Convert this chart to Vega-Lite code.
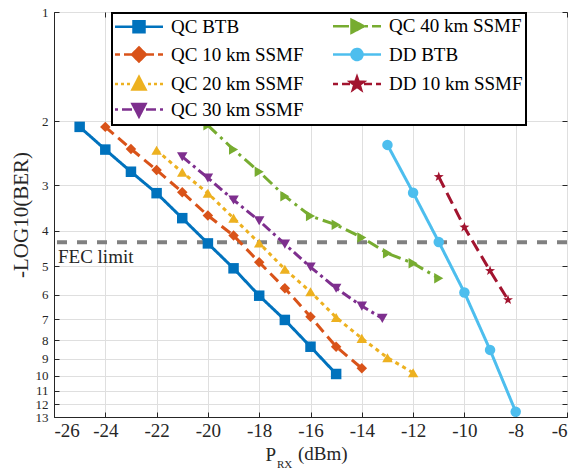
{
  "$schema": "https://vega.github.io/schema/vega-lite/v6.json",
  "width": 513,
  "height": 405,
  "autosize": {"type": "none"},
  "padding": {"left": 54, "top": 12, "right": 11, "bottom": 53},
  "background": "white",
  "config": {
    "font": "Liberation Serif, DejaVu Serif, serif",
    "view": {"stroke": "#262626", "strokeWidth": 1},
    "axis": {"domainColor": "#262626", "tickColor": "#262626", "gridColor": "#dfdfdf", "gridWidth": 1, "labelFont": "Liberation Serif, DejaVu Serif, serif", "labelColor": "#262626", "titleFont": "Liberation Serif, DejaVu Serif, serif", "titleColor": "#262626", "titleFontWeight": "normal"},
    "legend": {"labelFont": "Liberation Serif, DejaVu Serif, serif", "labelFontSize": 19, "labelColor": "#000000"},
    "text": {"font": "Liberation Serif, DejaVu Serif, serif"}
  },
  "data": {"values": [
    {"series": "QC BTB", "p": -25, "v": 2.07}, {"series": "QC BTB", "p": -24, "v": 2.39}, {"series": "QC BTB", "p": -23, "v": 2.75}, {"series": "QC BTB", "p": -22, "v": 3.15}, {"series": "QC BTB", "p": -21, "v": 3.69}, {"series": "QC BTB", "p": -20, "v": 4.33}, {"series": "QC BTB", "p": -19, "v": 5.07}, {"series": "QC BTB", "p": -18, "v": 6.03}, {"series": "QC BTB", "p": -17, "v": 7.03}, {"series": "QC BTB", "p": -16, "v": 8.33}, {"series": "QC BTB", "p": -15, "v": 9.9},
    {"series": "QC 10 km SSMF", "p": -24, "v": 2.07}, {"series": "QC 10 km SSMF", "p": -23, "v": 2.38}, {"series": "QC 10 km SSMF", "p": -22, "v": 2.72}, {"series": "QC 10 km SSMF", "p": -21, "v": 3.13}, {"series": "QC 10 km SSMF", "p": -20, "v": 3.63}, {"series": "QC 10 km SSMF", "p": -19, "v": 4.12}, {"series": "QC 10 km SSMF", "p": -18, "v": 4.88}, {"series": "QC 10 km SSMF", "p": -17, "v": 5.75}, {"series": "QC 10 km SSMF", "p": -16, "v": 6.89}, {"series": "QC 10 km SSMF", "p": -15, "v": 8.33}, {"series": "QC 10 km SSMF", "p": -14, "v": 9.55},
    {"series": "QC 20 km SSMF", "p": -22, "v": 2.4}, {"series": "QC 20 km SSMF", "p": -21, "v": 2.76}, {"series": "QC 20 km SSMF", "p": -20, "v": 3.15}, {"series": "QC 20 km SSMF", "p": -19, "v": 3.69}, {"series": "QC 20 km SSMF", "p": -18, "v": 4.32}, {"series": "QC 20 km SSMF", "p": -17, "v": 5.1}, {"series": "QC 20 km SSMF", "p": -16, "v": 5.88}, {"series": "QC 20 km SSMF", "p": -15, "v": 6.92}, {"series": "QC 20 km SSMF", "p": -14, "v": 7.9}, {"series": "QC 20 km SSMF", "p": -13, "v": 8.93}, {"series": "QC 20 km SSMF", "p": -12, "v": 9.82},
    {"series": "QC 30 km SSMF", "p": -21, "v": 2.5}, {"series": "QC 30 km SSMF", "p": -20, "v": 2.86}, {"series": "QC 30 km SSMF", "p": -19, "v": 3.29}, {"series": "QC 30 km SSMF", "p": -18, "v": 3.75}, {"series": "QC 30 km SSMF", "p": -17, "v": 4.35}, {"series": "QC 30 km SSMF", "p": -16, "v": 5.03}, {"series": "QC 30 km SSMF", "p": -15, "v": 5.75}, {"series": "QC 30 km SSMF", "p": -14, "v": 6.44}, {"series": "QC 30 km SSMF", "p": -13.2, "v": 6.96},
    {"series": "QC 40 km SSMF", "p": -20, "v": 2.05}, {"series": "QC 40 km SSMF", "p": -19, "v": 2.39}, {"series": "QC 40 km SSMF", "p": -18, "v": 2.75}, {"series": "QC 40 km SSMF", "p": -17, "v": 3.21}, {"series": "QC 40 km SSMF", "p": -16, "v": 3.64}, {"series": "QC 40 km SSMF", "p": -15, "v": 3.85}, {"series": "QC 40 km SSMF", "p": -14, "v": 4.17}, {"series": "QC 40 km SSMF", "p": -13, "v": 4.61}, {"series": "QC 40 km SSMF", "p": -12, "v": 4.91}, {"series": "QC 40 km SSMF", "p": -11, "v": 5.4},
    {"series": "DD BTB", "p": -13, "v": 2.32}, {"series": "DD BTB", "p": -12, "v": 3.14}, {"series": "DD BTB", "p": -11, "v": 4.29}, {"series": "DD BTB", "p": -10, "v": 5.91}, {"series": "DD BTB", "p": -9, "v": 8.5}, {"series": "DD BTB", "p": -8, "v": 12.57},
    {"series": "DD 10 km SSMF", "p": -11, "v": 2.84}, {"series": "DD 10 km SSMF", "p": -10, "v": 3.91}, {"series": "DD 10 km SSMF", "p": -9, "v": 5.15}, {"series": "DD 10 km SSMF", "p": -8.3, "v": 6.19}
  ]},
  "resolve": {"axis": {"x": "independent", "y": "independent"}},
  "layer": [
    {
      "data": {"values": [{"label": "FEC limit"}]},
      "mark": {"type": "rule", "color": "#808080", "strokeWidth": 4, "strokeDash": [10, 10]},
      "encoding": {"y": {"datum": 4.3, "type": "quantitative", "axis": null}}
    },
    {
      "data": {"values": [{"label": "FEC limit"}]},
      "mark": {"type": "text", "align": "left", "baseline": "middle", "dx": 4, "dy": 15, "fontSize": 19, "color": "#262626"},
      "encoding": {"text": {"field": "label"}, "x": {"datum": -26, "type": "quantitative", "axis": null}, "y": {"datum": 4.3, "type": "quantitative", "axis": null}}
    },
    {
      "mark": {"type": "line", "strokeWidth": 3, "clip": true},
      "encoding": {
        "x": {"field": "p", "type": "quantitative", "scale": {"domain": [-26, -6], "nice": false, "zero": false},
          "axis": {"values": [-26, -24, -22, -20, -18, -16, -14, -12, -10, -8, -6], "labelExpr": "'' + datum.value", "labelFontSize": 19, "tickSize": -5, "labelPadding": 9, "grid": true, "title": "P", "titleFontSize": 19, "titleX": 211, "titleY": 43, "titleAlign": "left", "titleBaseline": "alphabetic", "titleAnchor": "start"}},
        "y": {"field": "v", "type": "quantitative", "scale": {"type": "log", "domain": [1, 13], "reverse": true, "nice": false},
          "axis": {"values": [1, 2, 3, 4, 5, 6, 7, 8, 9, 10, 11, 12, 13], "labelExpr": "'' + datum.value", "labelFontSize": 13, "labelOverlap": false, "labelBound": false, "tickSize": -5, "labelPadding": 11, "grid": true, "title": "-LOG10(BER)", "titleFontSize": 21, "titlePadding": 4}},
        "color": {"field": "series", "type": "nominal",
          "scale": {"domain": ["QC BTB", "QC 10 km SSMF", "QC 20 km SSMF", "QC 30 km SSMF", "QC 40 km SSMF", "DD BTB", "DD 10 km SSMF"], "range": ["#0072BD", "#D95319", "#EDB120", "#7E2F8E", "#77AC30", "#4DBEEE", "#A2142F"]},
          "legend": {
            "title": null, "orient": "none", "legendX": 58, "legendY": 1, "columns": 2,
            "symbolSize": 289, "symbolStrokeWidth": 2.5, "symbolOffset": 14,
            "labelFontSize": 19, "labelColor": "#000000", "labelOffset": 22, "labelLimit": 300,
            "rowPadding": 3.5, "columnPadding": 23, "padding": 3,
            "fillColor": "white", "strokeColor": "#000000",
            "encoding": {
              "legend": {"strokeWidth": {"value": 2}},
              "symbols": {
                "shape": {"value": {"expr": "datum.value === 'QC BTB' ? 'M-2.824,0H2.824M-0.647,-0.647H0.647V0.647H-0.647Z' : datum.value === 'QC 10 km SSMF' ? 'M-2.824,0H-2.235M-1.765,0H-0.824M0.824,0H1.765M2.235,0H2.824M0,-0.824L0.824,0L0,0.824L-0.824,0Z' : datum.value === 'QC 20 km SSMF' ? 'M-2.824,0H-2.471M-2.118,0H-1.765M-1.412,0H-1.059M1.059,0H1.412M1.765,0H2.118M2.471,0H2.824M0,-0.824L0.765,0.647L-0.765,0.647Z' : datum.value === 'QC 30 km SSMF' ? 'M-2.824,0H-2.471M-2,0H-0.824M0.824,0H2M2.471,0H2.824M0,0.824L0.765,-0.647L-0.765,-0.647Z' : datum.value === 'QC 40 km SSMF' ? 'M-2.824,0H-0.941M0.941,0H1.294M1.765,0H2.824M0.824,0L-0.647,-0.765L-0.647,0.765Z' : datum.value === 'DD BTB' ? 'M-2.824,0H2.824M-0.647,0A0.647,0.647,0,1,0,0.647,0A0.647,0.647,0,1,0,-0.647,0Z' : 'M-2.824,0H-2.235M-1.765,0H-0.824M0.824,0H1.765M2.235,0H2.824M0,-0.824L0.194,-0.267L0.784,-0.255L0.313,0.102L0.485,0.667L0,0.33L-0.485,0.667L-0.313,0.102L-0.784,-0.255L-0.194,-0.267Z'"}},
                "size": {"value": 289},
                "fill": {"value": {"expr": "scale('color', datum.value)"}},
                "stroke": {"value": {"expr": "scale('color', datum.value)"}},
                "strokeWidth": {"value": 2.5},
                "strokeDash": {"value": [1, 0]},
                "opacity": {"value": 1}
              }
            }
          }},
        "strokeDash": {"field": "series", "type": "nominal", "legend": null,
          "scale": {"domain": ["DD 10 km SSMF", "DD BTB", "QC 10 km SSMF", "QC 20 km SSMF", "QC 30 km SSMF", "QC 40 km SSMF", "QC BTB"], "range": [[12, 6], [1, 0], [11, 6], [4, 4], [10, 4, 3, 4], [12, 5, 3, 5], [1, 0]]}}
      }
    },
    {
      "mark": {"type": "point", "filled": true, "opacity": 1, "size": 110, "clip": true},
      "encoding": {
        "x": {"field": "p", "type": "quantitative",
          "axis": {"orient": "top", "values": [-26, -24, -22, -20, -18, -16, -14, -12, -10, -8, -6], "labels": false, "grid": false, "domain": false, "tickSize": -5, "title": null}},
        "y": {"field": "v", "type": "quantitative",
          "axis": {"orient": "right", "values": [1, 2, 3, 4, 5, 6, 7, 8, 9, 10, 11, 12, 13], "labels": false, "grid": false, "domain": false, "tickSize": -5, "title": null}},
        "color": {"field": "series", "type": "nominal"},
        "shape": {"field": "series", "type": "nominal", "legend": null,
          "scale": {"domain": ["DD 10 km SSMF", "DD BTB", "QC 40 km SSMF", "QC 30 km SSMF", "QC 20 km SSMF", "QC 10 km SSMF", "QC BTB"], "range": ["M0,-1L0.235,-0.324L0.951,-0.309L0.38,0.124L0.588,0.809L0,0.4L-0.588,0.809L-0.38,0.124L-0.951,-0.309L-0.235,-0.324Z", "circle", "triangle-right", "triangle-down", "triangle-up", "diamond", "square"]}}
      }
    },
    {
      "data": {"values": [{"label": "RX"}]},
      "mark": {"type": "text", "align": "left", "baseline": "alphabetic", "dy": 51, "fontSize": 11, "color": "#262626"},
      "encoding": {"text": {"field": "label"}, "x": {"datum": -17.31, "type": "quantitative", "axis": null}, "y": {"datum": 13, "type": "quantitative", "axis": null}}
    },
    {
      "data": {"values": [{"label": "(dBm)"}]},
      "mark": {"type": "text", "align": "left", "baseline": "alphabetic", "dy": 43, "fontSize": 19, "color": "#262626"},
      "encoding": {"text": {"field": "label"}, "x": {"datum": -16.49, "type": "quantitative", "axis": null}, "y": {"datum": 13, "type": "quantitative", "axis": null}}
    }
  ]
}
